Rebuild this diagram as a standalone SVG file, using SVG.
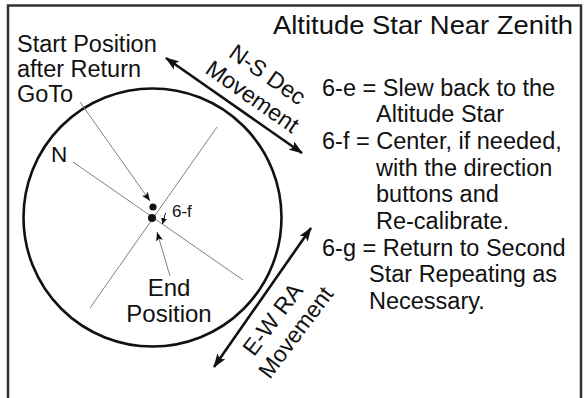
<svg xmlns="http://www.w3.org/2000/svg" width="584" height="398" viewBox="0 0 584 398">
<style>
.t{font-family:"Liberation Sans",Arial,sans-serif;fill:#111}
.thin{stroke:#808080;stroke-width:1;fill:none}
.thick{stroke:#111;stroke-width:2.6;fill:none}
</style>
<defs>
<marker id="ah" markerUnits="userSpaceOnUse" markerWidth="14" markerHeight="10" refX="13" refY="5" orient="auto-start-reverse" viewBox="0 0 14 10">
<path d="M0,0 L14,5 L0,10 L3,5 Z" fill="#111"/>
</marker>
<marker id="sh" markerUnits="userSpaceOnUse" markerWidth="9" markerHeight="7" refX="9" refY="3.5" orient="auto" viewBox="0 0 9 7">
<path d="M0,0 L9,3.5 L0,7 L2,3.5 Z" fill="#111"/>
</marker>
<marker id="xs" markerUnits="userSpaceOnUse" markerWidth="6" markerHeight="6" refX="6" refY="3" orient="auto" viewBox="0 0 6 6">
<path d="M0,0 L6,3 L0,6 Z" fill="#111"/>
</marker>
</defs>
<rect x="0" y="0" width="584" height="398" fill="#fff"/>
<path d="M8,410 V5.5 H581 V410" fill="none" stroke="#333" stroke-width="2.5"/>

<g id="title"><text class="t" x="273" y="34" font-size="25" textLength="300" lengthAdjust="spacingAndGlyphs">Altitude Star Near Zenith</text></g>

<g id="circle">
<circle cx="152.5" cy="217.5" r="129" class="thick"/>
<line x1="217" y1="127" x2="90" y2="308" class="thin"/>
<line x1="73" y1="162" x2="243" y2="280" class="thin"/>
</g>

<g id="connectors">
<line x1="80" y1="102" x2="150" y2="201" class="thin" marker-end="url(#sh)"/>
<line x1="170" y1="276" x2="157" y2="232" class="thin" marker-end="url(#sh)"/>
<line x1="165.5" y1="213" x2="162.5" y2="224" stroke="#111" stroke-width="1" marker-end="url(#xs)"/>
<line x1="166" y1="58" x2="302" y2="153" class="thick" marker-start="url(#ah)" marker-end="url(#ah)"/>
<line x1="214" y1="367" x2="311" y2="228" class="thick" marker-start="url(#ah)" marker-end="url(#ah)"/>
</g>

<g id="start-position">
<circle cx="153" cy="207" r="3.6" fill="#111"/>
<text class="t" font-size="23.5"><tspan x="17" y="52">Start Position</tspan><tspan x="17" y="77">after Return</tspan><tspan x="17" y="102">GoTo</tspan></text>
</g>

<g id="end-position">
<circle cx="152" cy="218" r="4" fill="#111"/>
<text class="t" font-size="24" text-anchor="middle"><tspan x="169" y="296">End</tspan><tspan x="169" y="322">Position</tspan></text>
</g>

<g id="n-label"><text class="t" x="51" y="162" font-size="22.5">N</text></g>
<g id="sixf-label"><text class="t" x="172" y="217" font-size="17">6-f</text></g>

<g id="ns-label">
<text class="t" font-size="23" text-anchor="middle" transform="translate(263,81) rotate(35)">N-S Dec</text>
<text class="t" font-size="23" text-anchor="middle" transform="translate(248,103) rotate(35)">Movement</text>
</g>

<g id="ew-label">
<text class="t" font-size="23" text-anchor="middle" transform="translate(279,324) rotate(-53)">E-W RA</text>
<text class="t" font-size="23" text-anchor="middle" transform="translate(302,337) rotate(-53)">Movement</text>
</g>

<g id="steps">
<text class="t" font-size="23.5">
<tspan x="322" y="96">6-e = Slew back to the</tspan>
<tspan x="376" y="122">Altitude Star</tspan>
<tspan x="322" y="149">6-f = Center, if needed,</tspan>
<tspan x="376" y="176">with the direction</tspan>
<tspan x="376" y="202">buttons and</tspan>
<tspan x="376" y="229">Re-calibrate.</tspan>
<tspan x="322" y="256">6-g = Return to Second</tspan>
<tspan x="369" y="282">Star Repeating as</tspan>
<tspan x="369" y="309">Necessary.</tspan>
</text>
</g>
</svg>
